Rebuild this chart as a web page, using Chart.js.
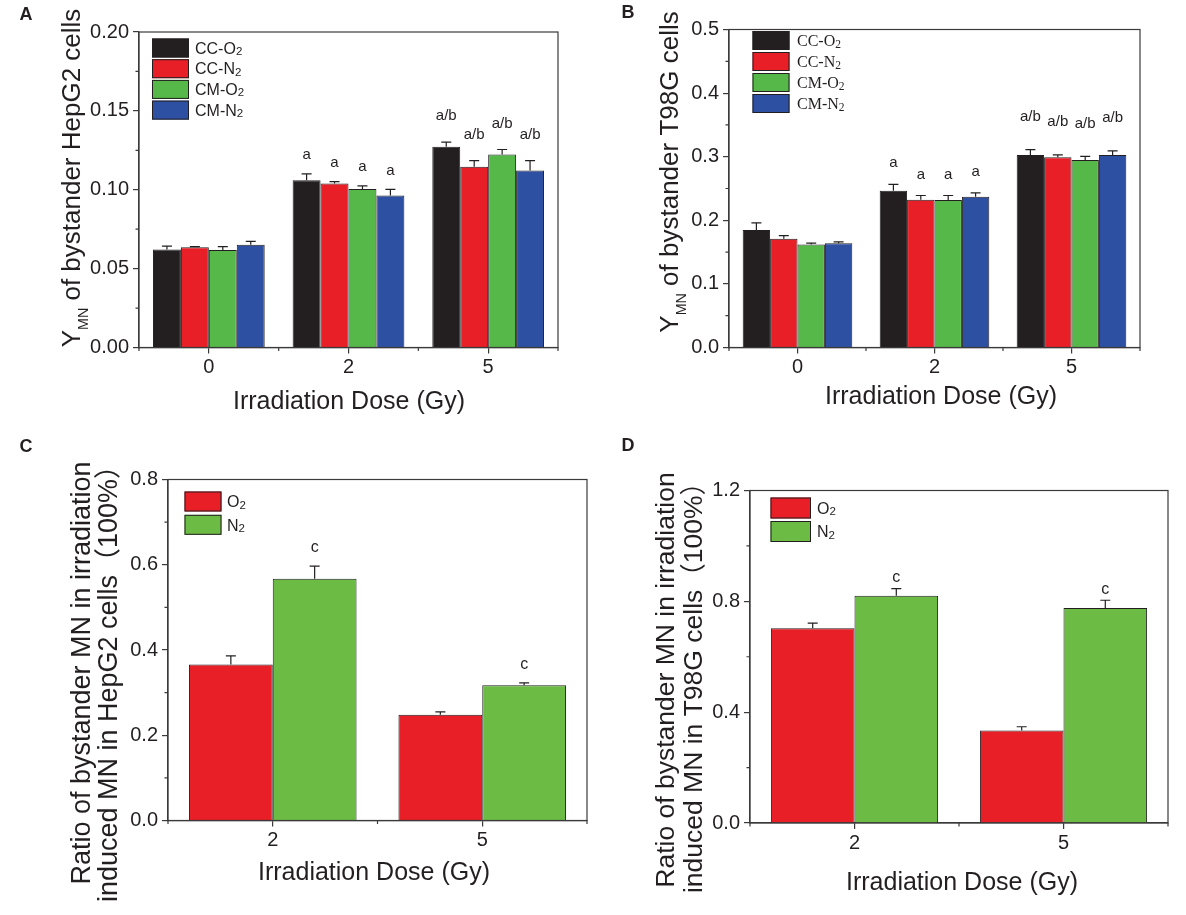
<!DOCTYPE html>
<html>
<head>
<meta charset="utf-8">
<script src="https://cdn.jsdelivr.net/npm/chart.js@4.4.1/dist/chart.umd.min.js"></script>
<style>
  html, body { margin: 0; padding: 0; background: #fff; }
  .panel { position: absolute; }
</style>
</head>
<body>
<div class="panel" style="left:0;top:0;width:593px;height:430px"><canvas id="chartA"></canvas></div>
<div class="panel" style="left:593px;top:0;width:593px;height:430px"><canvas id="chartB"></canvas></div>
<div class="panel" style="left:0;top:430px;width:593px;height:485px"><canvas id="chartC"></canvas></div>
<div class="panel" style="left:593px;top:430px;width:593px;height:485px"><canvas id="chartD"></canvas></div>
<script>
// ---- data ----
const doses = ['0', '2', '5'];
const dosesRatio = ['2', '5'];

// A: HepG2 bystander Y_MN
const hepCCO2 = [0.0622, 0.1061, 0.1272];
const hepCCO2Err = [0.0021, 0.0040, 0.0030];
const hepCCN2 = [0.0635, 0.1040, 0.1146];
const hepCCN2Err = [0.0004, 0.0011, 0.0038];
const hepCMO2 = [0.0618, 0.1004, 0.1224];
const hepCMO2Err = [0.0021, 0.0021, 0.0031];
const hepCMN2 = [0.0652, 0.0964, 0.1122];
const hepCMN2Err = [0.0021, 0.0038, 0.0062];
const hepMarks = ['', 'a', 'a/b'];

// B: T98G bystander Y_MN
const t98CCO2 = [0.1848, 0.2466, 0.3026];
const t98CCO2Err = [0.0110, 0.0100, 0.0085];
const t98CCN2 = [0.1710, 0.2325, 0.2990];
const t98CCN2Err = [0.0050, 0.0065, 0.0040];
const t98CMO2 = [0.1620, 0.2320, 0.2948];
const t98CMO2Err = [0.0020, 0.0070, 0.0057];
const t98CMN2 = [0.1640, 0.2370, 0.3026];
const t98CMN2Err = [0.0020, 0.0060, 0.0065];
const t98Marks = ['', 'a', 'a/b'];

// C: ratio HepG2
const hepRatioO2 = [0.366, 0.248];
const hepRatioO2Err = [0.020, 0.007];
const hepRatioN2 = [0.567, 0.3175];
const hepRatioN2Err = [0.030, 0.0055];

// D: ratio T98G
const t98RatioO2 = [0.703, 0.3334];
const t98RatioO2Err = [0.018, 0.014];
const t98RatioN2 = [0.820, 0.776];
const t98RatioN2Err = [0.026, 0.028];
const ratioMarks = ['c', 'c'];

// y axis ticks
const yTicksA = { max: 0.2, step: 0.05, digits: 2 };
const yTicksB = { max: 0.5, step: 0.1, digits: 1 };
const yTicksC = { max: 0.8, step: 0.2, digits: 1 };
const yTicksD = { max: 1.2, step: 0.4, digits: 1 };

// ---- style ----
const FONT = "'Liberation Sans', Arial, 'Noto Sans CJK SC', sans-serif";
const SERIF = "'Liberation Serif', 'Times New Roman', serif";
const INK = '#231f20';
const AXIS = '#3a3a3a';
const BLACK = '#231f20', RED = '#e81f27', GREEN = '#55b848', BLUE = '#2e50a2', GREEN2 = '#6cbb45';
const Y_W = 70, X_H = 40;

// "Y_{MN}" -> parts with subscripts
function parseRich(str) {
  const parts = [];
  const re = /_\{([^}]*)\}/g;
  let last = 0, m;
  while ((m = re.exec(str)) !== null) {
    if (m.index > last) parts.push({ t: str.slice(last, m.index) });
    parts.push({ t: m[1], sub: true });
    last = re.lastIndex;
  }
  if (last < str.length) parts.push({ t: str.slice(last) });
  return parts;
}

function drawRich(ctx, str, x, y, size, family, align, subScale, subDy) {
  const parts = parseRich(str);
  let w = 0;
  parts.forEach(p => {
    ctx.font = (p.sub ? size * subScale : size) + 'px ' + family;
    p.w = ctx.measureText(p.t).width;
    w += p.w;
  });
  let cx = align === 'center' ? x - w / 2 : x;
  ctx.textAlign = 'left';
  ctx.textBaseline = 'alphabetic';
  parts.forEach(p => {
    ctx.font = (p.sub ? size * subScale : size) + 'px ' + family;
    ctx.fillText(p.t, cx, y + (p.sub ? size * subDy : 0));
    cx += p.w;
  });
}

function decorPlugin(cfg) {
  return {
    id: 'decor',
    afterDatasetsDraw(chart) {
      const ctx = chart.ctx, ys = chart.scales.y;
      ctx.save();
      ctx.strokeStyle = INK;
      ctx.lineWidth = 1.2;
      cfg.series.forEach((s, i) => {
        const meta = chart.getDatasetMeta(i);
        meta.data.forEach((bar, j) => {
          const top = ys.getPixelForValue(s.data[j] + s.errors[j]);
          ctx.beginPath();
          ctx.moveTo(bar.x, bar.y);
          ctx.lineTo(bar.x, top);
          ctx.moveTo(bar.x - 5, top);
          ctx.lineTo(bar.x + 5, top);
          ctx.stroke();
          const mk = s.marks && s.marks[j];
          if (mk) {
            ctx.fillStyle = INK;
            ctx.font = cfg.markSize + 'px ' + FONT;
            ctx.textAlign = 'center';
            ctx.textBaseline = 'middle';
            ctx.fillText(mk, bar.x, top - cfg.markGap[j]);
          }
        });
      });
      ctx.restore();
    },
    afterDraw(chart) {
      const ctx = chart.ctx, a = chart.chartArea, ys = chart.scales.y;
      const ox = cfg.box.x, oy = cfg.box.y;
      ctx.save();
      // frame
      ctx.strokeStyle = AXIS;
      ctx.lineWidth = 1.2;
      ctx.strokeRect(a.left, a.top, a.right - a.left, a.bottom - a.top);
      // minor ticks
      ctx.beginPath();
      const n = Math.round(cfg.yTicks.max / cfg.yTicks.step);
      for (let k = 0; k < n; k++) {
        const py = ys.getPixelForValue((k + 0.5) * cfg.yTicks.step);
        ctx.moveTo(a.left - 3.5, py);
        ctx.lineTo(a.left, py);
      }
      const nc = cfg.labels.length;
      for (let k = 0; k <= nc; k++) {
        const px = a.left + k * (a.right - a.left) / nc;
        ctx.moveTo(px, a.bottom);
        ctx.lineTo(px, a.bottom + 3.5);
      }
      ctx.stroke();

      ctx.translate(-ox, -oy);
      ctx.fillStyle = INK;
      // legend
      const lg = cfg.legend;
      cfg.series.forEach((s, i) => {
        const top = lg.y + i * lg.step;
        ctx.fillStyle = s.color;
        ctx.fillRect(lg.x, top, lg.w, lg.h);
        ctx.strokeStyle = INK;
        ctx.lineWidth = 1;
        ctx.strokeRect(lg.x + 0.5, top + 0.5, lg.w - 1, lg.h - 1);
        ctx.fillStyle = INK;
        drawRich(ctx, s.label, lg.textX, top + lg.h / 2 + lg.size * 0.36, lg.size, lg.family, 'left', 0.72, 0.08);
      });
      // x title
      ctx.font = cfg.xTitle.size + 'px ' + FONT;
      ctx.textAlign = 'center';
      ctx.textBaseline = 'middle';
      ctx.fillText(cfg.xTitle.text, cfg.xTitle.x, cfg.xTitle.y);
      // y title (rotated)
      cfg.yTitle.forEach(line => {
        ctx.save();
        ctx.translate(line.x, line.y);
        ctx.rotate(-Math.PI / 2);
        drawRich(ctx, line.text, 0, line.size * 0.36, line.size, FONT, 'center', 0.55, 0.28);
        ctx.restore();
      });
      // panel letter
      ctx.font = 'bold 18px ' + FONT;
      ctx.textAlign = 'center';
      ctx.textBaseline = 'middle';
      ctx.fillText(cfg.letter.text, cfg.letter.x, cfg.letter.y);
      ctx.restore();
    }
  };
}

function makeChart(id, cfg) {
  const box = cfg.box, p = cfg.plot;
  const gridOpt = { drawOnChartArea: false, tickLength: 6, color: AXIS, lineWidth: 1.2 };
  const tickFont = { family: FONT, size: 20 };
  return new Chart(document.getElementById(id), {
    type: 'bar',
    data: {
      labels: cfg.labels,
      datasets: cfg.series.map(s => ({
        label: s.label,
        data: s.data,
        backgroundColor: s.color,
        borderColor: INK,
        borderWidth: 1,
        categoryPercentage: 0.8,
        barPercentage: 1.0
      }))
    },
    options: {
      responsive: true,
      maintainAspectRatio: false,
      animation: false,
      events: [],
      layout: {
        padding: {
          left: p.l - box.x - Y_W,
          top: p.t - box.y,
          right: box.x + box.w - p.r,
          bottom: box.y + box.h - p.b - X_H
        }
      },
      scales: {
        x: {
          offset: true,
          grid: Object.assign({ offset: false }, gridOpt),
          border: { color: AXIS, width: 1.2 },
          ticks: { color: INK, font: tickFont, padding: 2 },
          afterFit: s => { s.height = X_H; }
        },
        y: {
          min: 0,
          max: cfg.yTicks.max,
          grid: gridOpt,
          border: { color: AXIS, width: 1.2 },
          ticks: {
            stepSize: cfg.yTicks.step,
            color: INK,
            font: tickFont,
            padding: 4,
            callback: v => Number(v).toFixed(cfg.yTicks.digits)
          },
          afterFit: s => { s.width = Y_W; }
        }
      },
      plugins: { legend: { display: false }, tooltip: { enabled: false } }
    },
    plugins: [decorPlugin(cfg)]
  });
}

makeChart('chartA', {
  box: { x: 0, y: 0, w: 593, h: 430 },
  plot: { l: 139, t: 32, r: 558, b: 347.5 },
  labels: doses,
  yTicks: yTicksA,
  series: [
    { label: 'CC-O_{2}', data: hepCCO2, errors: hepCCO2Err, marks: hepMarks, color: BLACK },
    { label: 'CC-N_{2}', data: hepCCN2, errors: hepCCN2Err, marks: hepMarks, color: RED },
    { label: 'CM-O_{2}', data: hepCMO2, errors: hepCMO2Err, marks: hepMarks, color: GREEN },
    { label: 'CM-N_{2}', data: hepCMN2, errors: hepCMN2Err, marks: hepMarks, color: BLUE }
  ],
  markSize: 15,
  markGap: [0, 19, 26],
  legend: { x: 152, y: 38.5, w: 37, h: 19, step: 20.7, textX: 195, size: 16, family: FONT },
  xTitle: { text: 'Irradiation Dose (Gy)', x: 349, y: 402, size: 25 },
  yTitle: [{ text: 'Y_{MN} of bystander HepG2 cells', x: 71, y: 178, size: 26 }],
  letter: { text: 'A', x: 26, y: 15 }
});

makeChart('chartB', {
  box: { x: 593, y: 0, w: 593, h: 430 },
  plot: { l: 729, t: 29.5, r: 1140, b: 347.5 },
  labels: doses,
  yTicks: yTicksB,
  series: [
    { label: 'CC-O_{2}', data: t98CCO2, errors: t98CCO2Err, marks: t98Marks, color: BLACK },
    { label: 'CC-N_{2}', data: t98CCN2, errors: t98CCN2Err, marks: t98Marks, color: RED },
    { label: 'CM-O_{2}', data: t98CMO2, errors: t98CMO2Err, marks: t98Marks, color: GREEN },
    { label: 'CM-N_{2}', data: t98CMN2, errors: t98CMN2Err, marks: t98Marks, color: BLUE }
  ],
  markSize: 15,
  markGap: [0, 21, 33],
  legend: { x: 752.5, y: 31, w: 37, h: 19, step: 21, textX: 797, size: 16, family: SERIF },
  xTitle: { text: 'Irradiation Dose (Gy)', x: 941, y: 397, size: 25 },
  yTitle: [{ text: 'Y_{MN} of bystander T98G cells', x: 669, y: 172, size: 26 }],
  letter: { text: 'B', x: 628, y: 13 }
});

makeChart('chartC', {
  box: { x: 0, y: 430, w: 593, h: 485 },
  plot: { l: 168, t: 479.5, r: 587, b: 820.5 },
  labels: dosesRatio,
  yTicks: yTicksC,
  series: [
    { label: 'O_{2}', data: hepRatioO2, errors: hepRatioO2Err, marks: null, color: RED },
    { label: 'N_{2}', data: hepRatioN2, errors: hepRatioN2Err, marks: ratioMarks, color: GREEN2 }
  ],
  markSize: 16,
  markGap: [18, 18],
  legend: { x: 184.5, y: 491.5, w: 37, h: 20, step: 23.3, textX: 227, size: 16, family: FONT },
  xTitle: { text: 'Irradiation Dose (Gy)', x: 374, y: 873, size: 25 },
  yTitle: [
    { text: 'Ratio of bystander MN in irradiation', x: 80, y: 673, size: 27 },
    { text: 'induced MN in HepG2 cells（100%）', x: 107, y: 677, size: 27 }
  ],
  letter: { text: 'C', x: 26, y: 447 }
});

makeChart('chartD', {
  box: { x: 593, y: 430, w: 593, h: 485 },
  plot: { l: 750, t: 490.5, r: 1168, b: 823 },
  labels: dosesRatio,
  yTicks: yTicksD,
  series: [
    { label: 'O_{2}', data: t98RatioO2, errors: t98RatioO2Err, marks: null, color: RED },
    { label: 'N_{2}', data: t98RatioN2, errors: t98RatioN2Err, marks: ratioMarks, color: GREEN2 }
  ],
  markSize: 16,
  markGap: [11, 11],
  legend: { x: 770.5, y: 497.5, w: 40.5, h: 21, step: 23.5, textX: 817, size: 16, family: FONT },
  xTitle: { text: 'Irradiation Dose (Gy)', x: 962, y: 883, size: 25 },
  yTitle: [
    { text: 'Ratio of bystander MN in irradiation', x: 664, y: 680, size: 26.5 },
    { text: 'induced MN in T98G cells（100%）', x: 692, y: 681, size: 26.5 }
  ],
  letter: { text: 'D', x: 628, y: 446 }
});
</script>
</body>
</html>
